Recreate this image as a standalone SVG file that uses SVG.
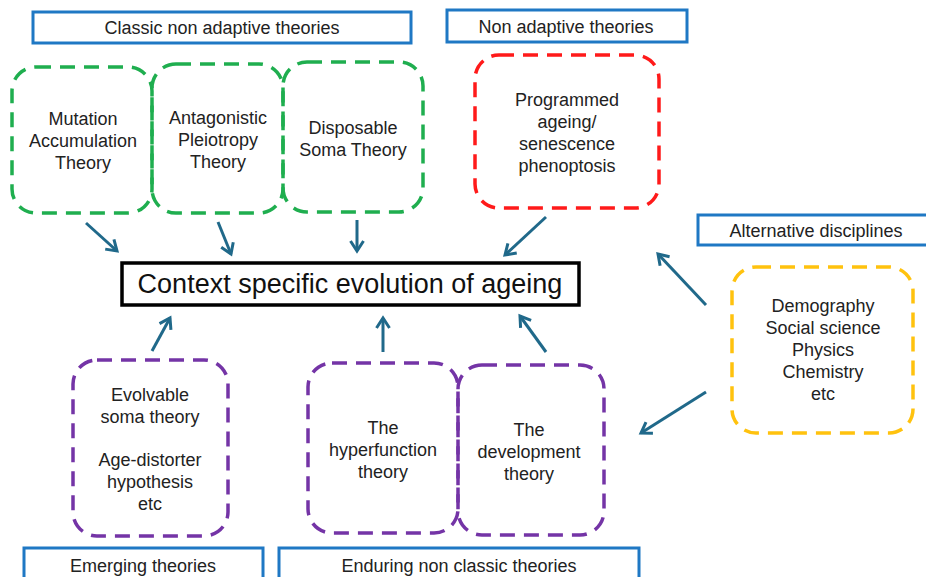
<svg xmlns="http://www.w3.org/2000/svg" width="926" height="577" viewBox="0 0 926 577">
<defs>
<style>
.hdr{fill:#fff;stroke:#1f78c4;stroke-width:3}
.t{font-family:"Liberation Sans",Arial,sans-serif;font-size:18px;fill:#222;text-anchor:middle}
.box{fill:none;stroke-width:3.5;stroke-dasharray:15 9}
.g{stroke:#1fae4f}
.r{stroke:#ff1a1a}
.p{stroke:#7434a6}
.y{stroke:#ffc20e}
.arr{stroke:#20698a;stroke-width:3;fill:none;marker-end:url(#ah)}
</style>
<marker id="ah" markerUnits="userSpaceOnUse" viewBox="0 0 16 16" markerWidth="16" markerHeight="16" refX="13" refY="8" orient="auto">
<path d="M3,1.5 L13,8 L3,14.5" fill="none" stroke="#20698a" stroke-width="3"/>
</marker>
</defs>
<rect width="926" height="577" fill="#fff"/>

<g id="hdr-classic"><rect class="hdr" x="33" y="12" width="378" height="31"/><text class="t" x="222" y="34">Classic non adaptive theories</text></g>
<g id="hdr-nonadaptive"><rect class="hdr" x="447" y="10" width="240" height="32"/><text class="t" x="566" y="33">Non adaptive theories</text></g>
<g id="hdr-alternative"><rect class="hdr" x="698" y="215" width="232" height="30"/><text class="t" x="816" y="237">Alternative disciplines</text></g>
<g id="hdr-emerging"><rect class="hdr" x="24" y="548" width="239" height="34"/><text class="t" x="143" y="572">Emerging  theories</text></g>
<g id="hdr-enduring"><rect class="hdr" x="279" y="548" width="360" height="34"/><text class="t" x="459" y="572">Enduring non classic theories</text></g>

<g id="mutation"><rect class="box g" x="12" y="67" width="140" height="146" rx="24"/>
<text class="t" x="83" y="125">Mutation</text><text class="t" x="83" y="147">Accumulation</text><text class="t" x="83" y="169">Theory</text></g>
<g id="antagonistic"><rect class="box g" x="152" y="64" width="131" height="149" rx="24"/>
<text class="t" x="218" y="124">Antagonistic</text><text class="t" x="218" y="146">Pleiotropy</text><text class="t" x="218" y="168">Theory</text></g>
<g id="disposable"><rect class="box g" x="283" y="62" width="140" height="150" rx="24"/>
<text class="t" x="353" y="134">Disposable</text><text class="t" x="353" y="156">Soma Theory</text></g>
<g id="programmed"><rect class="box r" x="475" y="55" width="184" height="153" rx="24"/>
<text class="t" x="567" y="106">Programmed</text><text class="t" x="567" y="128">ageing/</text><text class="t" x="567" y="150">senescence</text><text class="t" x="567" y="172">phenoptosis</text></g>

<g id="center"><rect x="122" y="263" width="457" height="42" fill="#fff" stroke="#000" stroke-width="3.5"/>
<text x="350" y="293" style="font-family:'Liberation Sans',Arial,sans-serif;font-size:27px;fill:#111;text-anchor:middle">Context specific evolution of ageing</text></g>

<g id="alternative"><rect class="box y" x="732" y="267" width="181" height="166" rx="24"/>
<text class="t" x="823" y="312">Demography</text><text class="t" x="823" y="334">Social science</text><text class="t" x="823" y="356">Physics</text><text class="t" x="823" y="378">Chemistry</text><text class="t" x="823" y="400">etc</text></g>

<g id="evolvable"><rect class="box p" x="73" y="360" width="155" height="176" rx="24"/>
<text class="t" x="150" y="401">Evolvable</text><text class="t" x="150" y="423">soma theory</text><text class="t" x="150" y="466">Age-distorter</text><text class="t" x="150" y="488">hypothesis</text><text class="t" x="150" y="510">etc</text></g>
<g id="hyperfunction"><rect class="box p" x="308" y="363" width="150" height="170" rx="24"/>
<text class="t" x="383" y="434">The</text><text class="t" x="383" y="456">hyperfunction</text><text class="t" x="383" y="478">theory</text></g>
<g id="development"><rect class="box p" x="458" y="365" width="146" height="170" rx="24"/>
<text class="t" x="529" y="436">The</text><text class="t" x="529" y="458">development</text><text class="t" x="529" y="480">theory</text></g>

<g id="connectors">
<line class="arr" x1="86" y1="223" x2="117" y2="251"/>
<line class="arr" x1="218" y1="222" x2="231" y2="254"/>
<line class="arr" x1="357" y1="220" x2="357" y2="251"/>
<line class="arr" x1="546" y1="217" x2="505" y2="255"/>
<line class="arr" x1="706" y1="305" x2="658" y2="254"/>
<line class="arr" x1="706" y1="392" x2="641" y2="433"/>
<line class="arr" x1="152" y1="351" x2="170" y2="318"/>
<line class="arr" x1="383" y1="352" x2="383" y2="318"/>
<line class="arr" x1="546" y1="352" x2="520" y2="316"/>
</g>
</svg>
